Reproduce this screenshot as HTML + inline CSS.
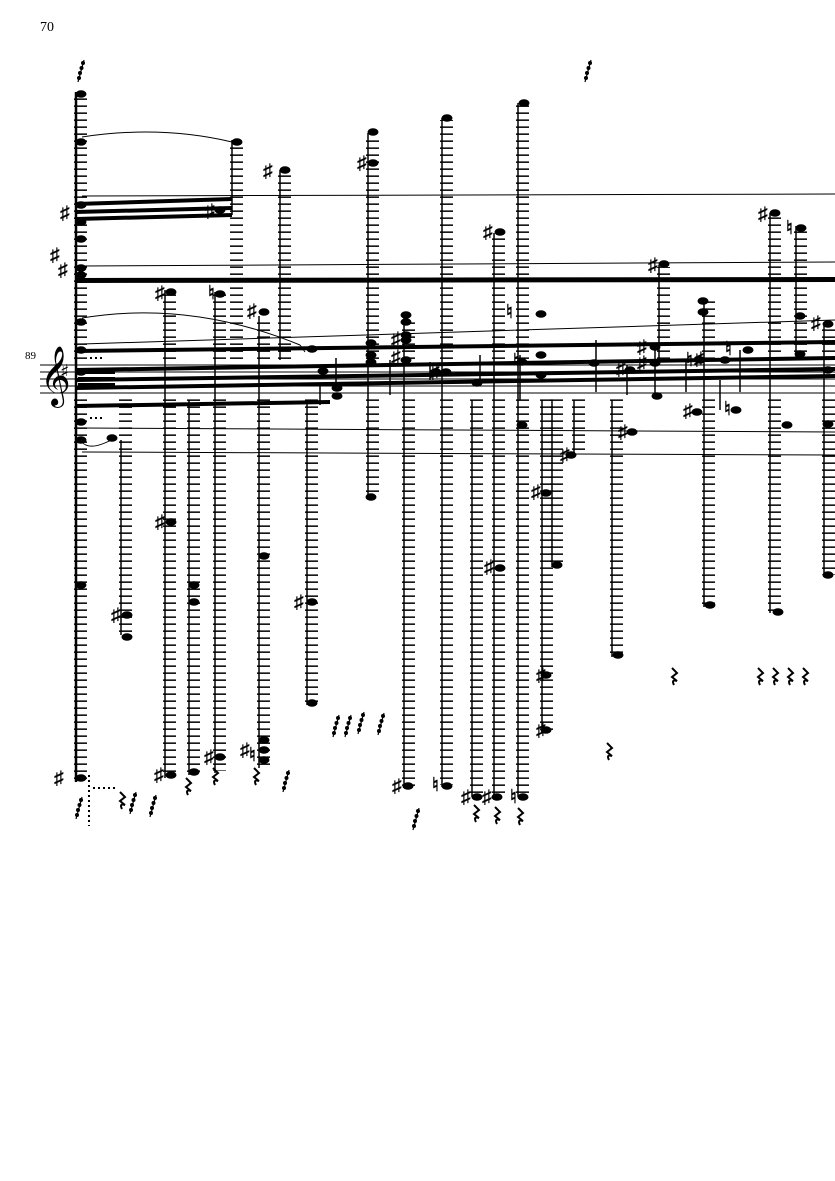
<!DOCTYPE html>
<html><head><meta charset="utf-8"><style>
html,body{margin:0;padding:0;background:#fff;}
svg{display:block;}
text{font-family:"Liberation Serif",serif;}
.a{font-family:"DejaVu Sans",sans-serif;font-size:19px;font-weight:bold;}
</style></head><body>
<svg width="835" height="1181" viewBox="0 0 835 1181" xmlns="http://www.w3.org/2000/svg">
<defs>
<pattern id="L" patternUnits="userSpaceOnUse" x="0" y="0" width="835" height="7">
<rect x="0" y="0.4" width="835" height="1.5" fill="#000"/>
</pattern>
<g id="rest"><path d="M0,0 l5,5 l-5,4 l5,4 q-6,-2 -3,4" fill="none" stroke="#000" stroke-width="2"/></g>
<g id="grace"><path d="M0,22 L6,0" stroke="#000" stroke-width="1.2"/><circle cx="1" cy="18" r="2"/><circle cx="2" cy="13" r="2"/><circle cx="3.5" cy="8" r="2"/><circle cx="5" cy="3" r="2"/></g>
</defs>
<text x="40" y="31" font-size="14">70</text>
<text x="25" y="359" font-size="11">89</text>
<g stroke="#000" stroke-width="0.9">
<line x1="40" y1="365" x2="835" y2="365"/><line x1="40" y1="372" x2="835" y2="372"/><line x1="40" y1="379" x2="835" y2="379"/><line x1="40" y1="386" x2="835" y2="386"/><line x1="40" y1="393" x2="835" y2="393"/>
</g>
<text x="40" y="393" font-size="52" font-family="DejaVu Sans">𝄞</text>
<text x="60" y="378" class="a">♯</text>
<g fill="url(#L)">
<rect x="74" y="95" width="13" height="266"/><rect x="74" y="399" width="13" height="381"/>
<rect x="119" y="399" width="13" height="233"/>
<rect x="163" y="292" width="13" height="69"/><rect x="163" y="399" width="13" height="376"/>
<rect x="187" y="399" width="13" height="373"/>
<rect x="213" y="294" width="13" height="67"/><rect x="213" y="399" width="13" height="372"/>
<rect x="230" y="142" width="13" height="219"/>
<rect x="257" y="318" width="13" height="43"/><rect x="257" y="399" width="13" height="366"/>
<rect x="278" y="172" width="13" height="189"/>
<rect x="305" y="399" width="13" height="306"/>
<rect x="366" y="135" width="13" height="226"/><rect x="366" y="399" width="13" height="98"/>
<rect x="402" y="320" width="13" height="41"/><rect x="402" y="399" width="13" height="387"/>
<rect x="440" y="120" width="13" height="241"/><rect x="440" y="399" width="13" height="386"/>
<rect x="470" y="399" width="13" height="396"/>
<rect x="492" y="235" width="13" height="126"/><rect x="492" y="399" width="13" height="396"/>
<rect x="516" y="105" width="13" height="256"/><rect x="516" y="399" width="13" height="396"/>
<rect x="540" y="399" width="13" height="332"/>
<rect x="550" y="399" width="13" height="166"/>
<rect x="572" y="399" width="13" height="56"/>
<rect x="610" y="399" width="13" height="256"/>
<rect x="657" y="267" width="13" height="94"/>
<rect x="702" y="300" width="13" height="61"/><rect x="702" y="399" width="13" height="206"/>
<rect x="768" y="215" width="13" height="146"/><rect x="768" y="399" width="13" height="212"/>
<rect x="794" y="228" width="13" height="133"/>
<rect x="822" y="325" width="13" height="36"/><rect x="822" y="399" width="13" height="176"/>
</g>
<g stroke="#000" stroke-width="1.5">
<line x1="76" y1="92" x2="76" y2="782" stroke-width="2.5"/>
<line x1="121" y1="440" x2="121" y2="635"/>
<line x1="165" y1="290" x2="165" y2="778"/>
<line x1="189" y1="400" x2="189" y2="775"/>
<line x1="215" y1="292" x2="215" y2="773"/>
<line x1="232" y1="140" x2="232" y2="215"/>
<line x1="259" y1="316" x2="259" y2="768"/>
<line x1="280" y1="170" x2="280" y2="360"/>
<line x1="307" y1="400" x2="307" y2="705"/>
<line x1="368" y1="133" x2="368" y2="497"/>
<line x1="404" y1="318" x2="404" y2="788"/>
<line x1="442" y1="118" x2="442" y2="787"/>
<line x1="472" y1="400" x2="472" y2="797"/>
<line x1="494" y1="233" x2="494" y2="797"/>
<line x1="518" y1="103" x2="518" y2="797"/>
<line x1="542" y1="400" x2="542" y2="733"/>
<line x1="552" y1="400" x2="552" y2="567"/>
<line x1="574" y1="400" x2="574" y2="457"/>
<line x1="612" y1="400" x2="612" y2="657"/>
<line x1="659" y1="265" x2="659" y2="360"/>
<line x1="704" y1="298" x2="704" y2="607"/>
<line x1="770" y1="213" x2="770" y2="613"/>
<line x1="796" y1="226" x2="796" y2="360"/>
<line x1="824" y1="323" x2="824" y2="577"/>
<line x1="320" y1="385" x2="320" y2="405"/><line x1="336" y1="358" x2="336" y2="385"/>
<line x1="390" y1="360" x2="390" y2="395"/><line x1="430" y1="362" x2="430" y2="380"/>
<line x1="480" y1="355" x2="480" y2="385"/><line x1="520" y1="355" x2="520" y2="400"/>
<line x1="596" y1="340" x2="596" y2="392"/><line x1="627" y1="365" x2="627" y2="395"/>
<line x1="655" y1="345" x2="655" y2="395"/><line x1="686" y1="360" x2="686" y2="392"/>
<line x1="740" y1="350" x2="740" y2="392"/><line x1="720" y1="380" x2="720" y2="410"/>
</g>
<g fill="#000">
<polygon points="76,202 232,197 232,201 76,206"/>
<polygon points="76,210 232,206 232,210 76,214"/>
<polygon points="76,217 232,213 232,217 76,221"/>
<polygon points="76,278 835,277 835,282 76,283"/>
<polygon points="76,349 835,340 835,344 76,353"/>
<polygon points="76,368 835,356 835,360 76,372"/>
<polygon points="76,378 835,367 835,371 76,382"/>
<polygon points="76,386 835,374 835,378 76,390"/>
<polygon points="76,404 330,400 330,404 76,408"/>
<polygon points="78,371 115,371 115,374 78,374"/>
<polygon points="78,377 115,377 115,380 78,380"/>
<polygon points="78,383 115,383 115,386 78,386"/>
</g>
<g fill="none" stroke="#000" stroke-width="1">
<path d="M82,137 Q160,125 232,142"/>
<path d="M82,196 L835,194"/>
<path d="M82,266 L835,262"/>
<path d="M82,318 Q190,300 300,345"/>
<path d="M82,344 L835,320"/>
<path d="M82,428 L835,432"/>
<path d="M82,442 Q90,452 115,438"/>
<path d="M82,452 L835,455"/>
<path d="M300,345 L305,352"/>
</g>
<g fill="#000">
<ellipse cx="81" cy="94" rx="5.5" ry="3.8"/><ellipse cx="81" cy="142" rx="5.5" ry="3.8"/><ellipse cx="81" cy="205" rx="5.5" ry="3.8"/><ellipse cx="81" cy="222" rx="5.5" ry="3.8"/><ellipse cx="81" cy="239" rx="5.5" ry="3.8"/><ellipse cx="81" cy="268" rx="5.5" ry="3.8"/><ellipse cx="81" cy="275" rx="5.5" ry="3.8"/><ellipse cx="81" cy="322" rx="5.5" ry="3.8"/><ellipse cx="81" cy="350" rx="5.5" ry="3.8"/><ellipse cx="81" cy="372" rx="5.5" ry="3.8"/><ellipse cx="81" cy="422" rx="5.5" ry="3.8"/><ellipse cx="81" cy="440" rx="5.5" ry="3.8"/><ellipse cx="81" cy="585" rx="5.5" ry="3.8"/><ellipse cx="81" cy="778" rx="5.5" ry="3.8"/>
<ellipse cx="112" cy="438" rx="5.5" ry="3.8"/>
<ellipse cx="127" cy="637" rx="5.5" ry="3.8"/><ellipse cx="127" cy="615" rx="5.5" ry="3.8"/>
<ellipse cx="171" cy="292" rx="5.5" ry="3.8"/><ellipse cx="171" cy="522" rx="5.5" ry="3.8"/><ellipse cx="171" cy="775" rx="5.5" ry="3.8"/>
<ellipse cx="194" cy="585" rx="5.5" ry="3.8"/><ellipse cx="194" cy="602" rx="5.5" ry="3.8"/><ellipse cx="194" cy="772" rx="5.5" ry="3.8"/>
<ellipse cx="220" cy="294" rx="5.5" ry="3.8"/><ellipse cx="220" cy="757" rx="5.5" ry="3.8"/>
<ellipse cx="237" cy="142" rx="5.5" ry="3.8"/><ellipse cx="220" cy="210" rx="5.5" ry="3.8"/>
<ellipse cx="264" cy="312" rx="5.5" ry="3.8"/><ellipse cx="264" cy="556" rx="5.5" ry="3.8"/><ellipse cx="264" cy="740" rx="5.5" ry="3.8"/><ellipse cx="264" cy="750" rx="5.5" ry="3.8"/><ellipse cx="264" cy="760" rx="5.5" ry="3.8"/>
<ellipse cx="285" cy="170" rx="5.5" ry="3.8"/>
<ellipse cx="312" cy="602" rx="5.5" ry="3.8"/><ellipse cx="312" cy="703" rx="5.5" ry="3.8"/>
<ellipse cx="312" cy="349" rx="5.5" ry="3.8"/><ellipse cx="323" cy="371" rx="5.5" ry="3.8"/><ellipse cx="337" cy="388" rx="5.5" ry="3.8"/><ellipse cx="337" cy="396" rx="5.5" ry="3.8"/>
<ellipse cx="373" cy="132" rx="5.5" ry="3.8"/><ellipse cx="373" cy="163" rx="5.5" ry="3.8"/><ellipse cx="371" cy="343" rx="5.5" ry="3.8"/><ellipse cx="371" cy="355" rx="5.5" ry="3.8"/><ellipse cx="371" cy="362" rx="5.5" ry="3.8"/><ellipse cx="371" cy="497" rx="5.5" ry="3.8"/>
<ellipse cx="406" cy="315" rx="5.5" ry="3.8"/><ellipse cx="406" cy="335" rx="5.5" ry="3.8"/><ellipse cx="406" cy="340" rx="5.5" ry="3.8"/><ellipse cx="406" cy="360" rx="5.5" ry="3.8"/><ellipse cx="408" cy="786" rx="5.5" ry="3.8"/>
<ellipse cx="447" cy="118" rx="5.5" ry="3.8"/><ellipse cx="446" cy="372" rx="5.5" ry="3.8"/><ellipse cx="447" cy="786" rx="5.5" ry="3.8"/>
<ellipse cx="477" cy="383" rx="5.5" ry="3.8"/><ellipse cx="477" cy="797" rx="5.5" ry="3.8"/>
<ellipse cx="500" cy="232" rx="5.5" ry="3.8"/><ellipse cx="500" cy="568" rx="5.5" ry="3.8"/><ellipse cx="497" cy="797" rx="5.5" ry="3.8"/>
<ellipse cx="524" cy="103" rx="5.5" ry="3.8"/><ellipse cx="522" cy="362" rx="5.5" ry="3.8"/><ellipse cx="522" cy="425" rx="5.5" ry="3.8"/><ellipse cx="523" cy="797" rx="5.5" ry="3.8"/>
<ellipse cx="541" cy="314" rx="5.5" ry="3.8"/><ellipse cx="541" cy="355" rx="5.5" ry="3.8"/><ellipse cx="541" cy="375" rx="5.5" ry="3.8"/><ellipse cx="546" cy="493" rx="5.5" ry="3.8"/><ellipse cx="546" cy="675" rx="5.5" ry="3.8"/><ellipse cx="546" cy="730" rx="5.5" ry="3.8"/>
<ellipse cx="557" cy="565" rx="5.5" ry="3.8"/><ellipse cx="571" cy="455" rx="5.5" ry="3.8"/>
<ellipse cx="594" cy="363" rx="5.5" ry="3.8"/><ellipse cx="618" cy="655" rx="5.5" ry="3.8"/><ellipse cx="630" cy="370" rx="5.5" ry="3.8"/><ellipse cx="632" cy="432" rx="5.5" ry="3.8"/>
<ellipse cx="664" cy="264" rx="5.5" ry="3.8"/><ellipse cx="655" cy="347" rx="5.5" ry="3.8"/><ellipse cx="655" cy="363" rx="5.5" ry="3.8"/><ellipse cx="657" cy="396" rx="5.5" ry="3.8"/>
<ellipse cx="703" cy="301" rx="5.5" ry="3.8"/><ellipse cx="703" cy="312" rx="5.5" ry="3.8"/><ellipse cx="700" cy="360" rx="5.5" ry="3.8"/><ellipse cx="710" cy="605" rx="5.5" ry="3.8"/><ellipse cx="697" cy="412" rx="5.5" ry="3.8"/>
<ellipse cx="725" cy="360" rx="5.5" ry="3.8"/><ellipse cx="736" cy="410" rx="5.5" ry="3.8"/><ellipse cx="748" cy="350" rx="5.5" ry="3.8"/>
<ellipse cx="775" cy="213" rx="5.5" ry="3.8"/><ellipse cx="778" cy="612" rx="5.5" ry="3.8"/><ellipse cx="787" cy="425" rx="5.5" ry="3.8"/>
<ellipse cx="801" cy="228" rx="5.5" ry="3.8"/><ellipse cx="800" cy="316" rx="5.5" ry="3.8"/><ellipse cx="800" cy="354" rx="5.5" ry="3.8"/>
<ellipse cx="828" cy="324" rx="5.5" ry="3.8"/><ellipse cx="828" cy="370" rx="5.5" ry="3.8"/><ellipse cx="828" cy="424" rx="5.5" ry="3.8"/><ellipse cx="828" cy="575" rx="5.5" ry="3.8"/>
<ellipse cx="406" cy="322" rx="5.5" ry="3.8"/><ellipse cx="436" cy="372" rx="5.5" ry="3.8"/>
</g>
<g class="a">
<text x="60" y="219">♯</text><text x="50" y="261">♯</text><text x="58" y="276">♯</text>
<text x="155" y="299">♯</text><text x="205" y="217">♯</text><text x="208" y="299">♮</text><text x="263" y="177">♯</text><text x="247" y="317">♯</text>
<text x="155" y="528">♯</text><text x="111" y="621">♯</text><text x="294" y="608">♯</text>
<text x="357" y="169">♯</text><text x="391" y="345">♯</text><text x="391" y="363">♯</text><text x="430" y="378">♯</text>
<text x="483" y="238">♯</text><text x="506" y="318">♮</text><text x="513" y="367">♮</text><text x="531" y="498">♯</text><text x="560" y="461">♯</text><text x="484" y="573">♯</text><text x="536" y="681">♯</text><text x="536" y="736">♯</text>
<text x="616" y="375">♯</text><text x="637" y="353">♯</text><text x="637" y="369">♯</text><text x="648" y="271">♯</text><text x="618" y="438">♯</text>
<text x="686" y="366">♮</text><text x="694" y="365">♯</text><text x="725" y="355">♮</text><text x="683" y="417">♯</text><text x="724" y="415">♮</text>
<text x="758" y="220">♯</text><text x="786" y="234">♮</text><text x="811" y="329">♯</text>
<text x="54" y="784">♯</text><text x="154" y="781">♯</text><text x="204" y="763">♯</text><text x="240" y="756">♯</text><text x="249" y="761">♮</text>
<text x="392" y="792">♯</text><text x="432" y="791">♮</text><text x="461" y="803">♯</text><text x="482" y="803">♯</text><text x="510" y="803">♮</text>
</g>
<g stroke="#000" stroke-width="2" stroke-dasharray="2,3">
<line x1="89" y1="775" x2="89" y2="826"/><line x1="93" y1="788" x2="118" y2="788"/>
<line x1="90" y1="358" x2="104" y2="358"/><line x1="90" y1="418" x2="104" y2="418"/>
</g>
<use href="#rest" x="120" y="792"/><use href="#rest" x="186" y="778"/><use href="#rest" x="213" y="768"/><use href="#rest" x="254" y="768"/>
<use href="#rest" x="474" y="805"/><use href="#rest" x="495" y="807"/><use href="#rest" x="518" y="808"/>
<use href="#rest" x="607" y="743"/><use href="#rest" x="672" y="668"/><use href="#rest" x="758" y="668"/><use href="#rest" x="773" y="668"/><use href="#rest" x="788" y="668"/><use href="#rest" x="803" y="668"/>
<use href="#grace" x="78" y="60"/><use href="#grace" x="585" y="60"/>
<use href="#grace" x="76" y="797"/><use href="#grace" x="130" y="792"/><use href="#grace" x="150" y="795"/><use href="#grace" x="283" y="770"/>
<use href="#grace" x="333" y="715"/><use href="#grace" x="345" y="715"/><use href="#grace" x="358" y="712"/><use href="#grace" x="378" y="713"/><use href="#grace" x="413" y="808"/>
</svg>
</body></html>
